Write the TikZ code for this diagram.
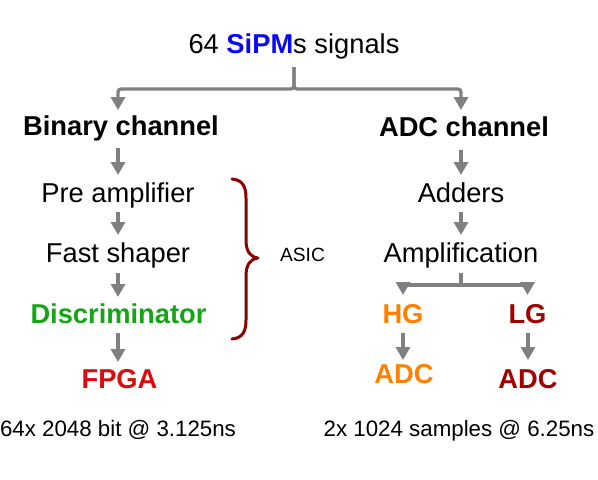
\documentclass[tikz,border=0pt]{standalone}
\usepackage{fontspec}
\setmainfont{Liberation Sans}
\usetikzlibrary{arrows.meta}
\definecolor{sipmblue}{RGB}{10,10,240}
\definecolor{discgreen}{RGB}{20,165,20}
\definecolor{fpgared}{RGB}{220,10,10}
\definecolor{hgorange}{RGB}{255,128,0}
\definecolor{lgred}{RGB}{160,0,0}
\definecolor{bracered}{RGB}{140,0,0}
\definecolor{arrgray}{RGB}{128,128,128}
\begin{document}
\begin{tikzpicture}[x=1pt,y=-1pt,
  lbl/.style={inner sep=0pt,anchor=base,font=\fontsize{27.3}{30}\selectfont},
  hdr/.style={lbl,font=\fontsize{27.3}{30}\selectfont\bfseries},
  small/.style={inner sep=0pt,anchor=base,font=\fontsize{22.3}{26}\selectfont},
  tiny/.style={inner sep=0pt,anchor=base,font=\fontsize{19.2}{22}\selectfont},
  arr/.style={draw=arrgray,line width=3.3pt,-{Triangle[length=13pt,width=14pt]}}]
\useasboundingbox (0,0) rectangle (598,480);
% top
\node[lbl] (top) at (294,53) {64 \textcolor{sipmblue}{\bfseries SiPM}s signals};
% left column
\node[hdr] (bin) at (121,135) {Binary channel};
\node[lbl] (pre) at (118,202) {Pre amplifier};
\node[lbl] (fast) at (118,262) {Fast shaper};
\node[hdr,text=discgreen] (disc) at (118.5,323) {Discriminator};
\node[hdr,text=fpgared] (fpga) at (119.5,388) {FPGA};
% right column
\node[hdr] (adcch) at (464,136) {ADC channel};
\node[lbl] (add) at (461,202) {Adders};
\node[lbl] (ampl) at (461,262) {Amplification};
\node[hdr,text=hgorange] (hg) at (403,323) {HG};
\node[hdr,text=lgred] (lg) at (527.5,323) {LG};
\node[hdr,text=hgorange] (adch) at (404,383) {ADC};
\node[hdr,text=lgred] (adcl) at (528,388) {ADC};
% ASIC
\node[tiny] (asic) at (302.5,261) {ASIC};
% bottom
\node[small] (rateL) at (118,436) {64x 2048 bit @ 3.125ns};
\node[small] (rateR) at (459,436) {2x 1024 samples @ 6.25ns};
% top fork
\draw[arr,rounded corners=3pt] ([yshift=-14pt]top.base) -- ++(0,-22pt) -| ([yshift=25pt]bin.base -| pre.base);
\draw[arr,rounded corners=3pt] ([yshift=-14pt]top.base) -- ++(0,-22pt) -| ([yshift=26pt]adcch.base -| add.base);
% left chain
\draw[arr] ([yshift=-13pt]bin.base -| pre.base) -- ([yshift=27pt]pre.base);
\draw[arr] ([yshift=-10pt]pre.base) -- ([yshift=27pt]fast.base);
\draw[arr] ([yshift=-11pt]fast.base) -- ([yshift=26pt]fast.base |- disc.base);
\draw[arr] ([yshift=-10pt]disc.base -| fast.base) -- ([yshift=26pt]fast.base |- fpga.base);
% right chain
\draw[arr] ([yshift=-14pt]adcch.base -| add.base) -- ([yshift=27pt]add.base);
\draw[arr] ([yshift=-10pt]add.base) -- ([yshift=27pt]ampl.base);
\draw[arr] ([yshift=-11pt]ampl.base) -- ++(0,-12pt) -| ([yshift=28pt]hg.base);
\draw[arr] ([yshift=-11pt]ampl.base) -- ++(0,-12pt) -| ([yshift=28pt]lg.base);
\draw[arr] ([yshift=-10pt]hg.base) -- ([yshift=23pt]hg.base |- adch.base);
\draw[arr] ([yshift=-10pt]lg.base -| adcl.base) -- ([yshift=28pt]adcl.base);
% brace
\draw[bracered,line width=3pt,line cap=round,line join=round]
  (232,179) .. controls (243,180) and (246,187) .. (246,198)
  -- (246,240) .. controls (246,251) and (250,257) .. (258,258)
  .. controls (250,259) and (246,265) .. (246,276)
  -- (246,320) .. controls (246,331) and (243,338) .. (232,339);
\end{tikzpicture}
\end{document}
